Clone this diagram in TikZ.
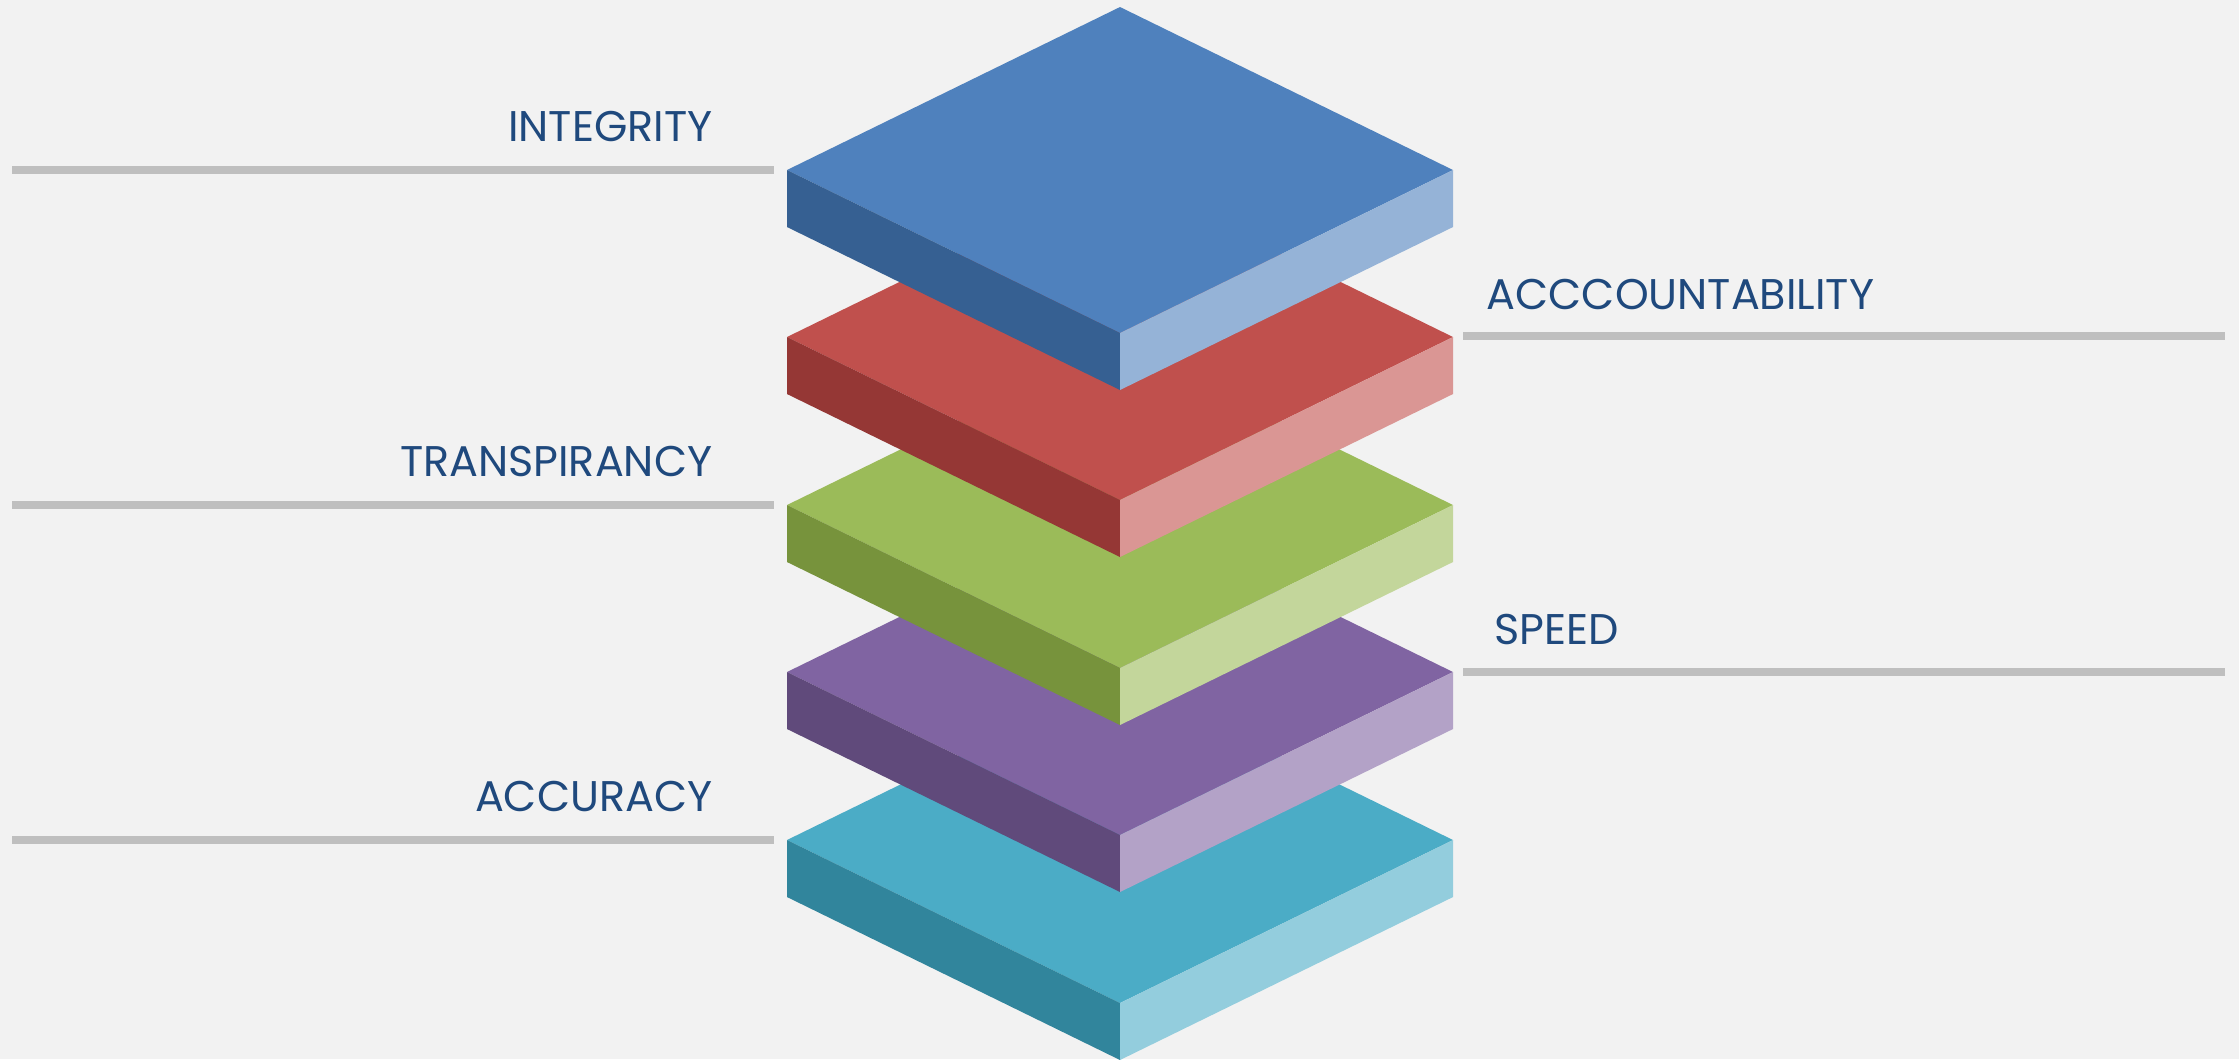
\documentclass[tikz,border=0pt]{standalone}
\usepackage{xcolor}
\usepackage{fontspec}
\setmainfont{Poppins}
\usetikzlibrary{positioning}

\definecolor{bgGray}{HTML}{F2F2F2}
\definecolor{lineGray}{HTML}{BFBFBF}
\definecolor{labelBlue}{HTML}{1F497D}
\definecolor{blueTop}{HTML}{4F81BD}
\definecolor{blueLeft}{HTML}{366092}
\definecolor{blueRight}{HTML}{95B3D7}
\definecolor{redTop}{HTML}{C0504D}
\definecolor{redLeft}{HTML}{953735}
\definecolor{redRight}{HTML}{DA9694}
\definecolor{greenTop}{HTML}{9BBB59}
\definecolor{greenLeft}{HTML}{77933C}
\definecolor{greenRight}{HTML}{C3D69B}
\definecolor{purpleTop}{HTML}{8064A2}
\definecolor{purpleLeft}{HTML}{604A7B}
\definecolor{purpleRight}{HTML}{B3A2C7}
\definecolor{tealTop}{HTML}{4BACC6}
\definecolor{tealLeft}{HTML}{31859C}
\definecolor{tealRight}{HTML}{93CDDD}

\begin{document}
\begin{tikzpicture}[x=0.01cm, y=-0.01cm,
    lbl text/.style={font=\fontsize{12.2}{14}\selectfont, text=labelBlue, inner sep=0pt},
    lbl line/.style={draw=lineGray, line width=0.08cm}]

    % background
    \fill [bgGray] (0,0) rectangle (2239,1059);
    \useasboundingbox (0,0) rectangle (2239,1059);

    % slabs, bottom first
    \fill [tealTop] (1120,677) -- (1453,840) -- (1120,1003) -- (787,840) -- cycle;
    \fill [tealLeft] (787,840) -- (1120,1003) -- (1120,1060) -- (787,897) -- cycle;
    \fill [tealRight] (1120,1003) -- (1453,840) -- (1453,897) -- (1120,1060) -- cycle;

    \fill [purpleTop] (1120,509) -- (1453,672) -- (1120,835) -- (787,672) -- cycle;
    \fill [purpleLeft] (787,672) -- (1120,835) -- (1120,892) -- (787,729) -- cycle;
    \fill [purpleRight] (1120,835) -- (1453,672) -- (1453,729) -- (1120,892) -- cycle;

    \fill [greenTop] (1120,342) -- (1453,505) -- (1120,668) -- (787,505) -- cycle;
    \fill [greenLeft] (787,505) -- (1120,668) -- (1120,725) -- (787,562) -- cycle;
    \fill [greenRight] (1120,668) -- (1453,505) -- (1453,562) -- (1120,725) -- cycle;

    \fill [redTop] (1120,174) -- (1453,337) -- (1120,500) -- (787,337) -- cycle;
    \fill [redLeft] (787,337) -- (1120,500) -- (1120,557) -- (787,394) -- cycle;
    \fill [redRight] (1120,500) -- (1453,337) -- (1453,394) -- (1120,557) -- cycle;

    \fill [blueTop] (1120,7) -- (1453,170) -- (1120,333) -- (787,170) -- cycle;
    \fill [blueLeft] (787,170) -- (1120,333) -- (1120,390) -- (787,227) -- cycle;
    \fill [blueRight] (1120,333) -- (1453,170) -- (1453,227) -- (1120,390) -- cycle;

    % label lines
    \coordinate (integrity a) at (12,170);
    \coordinate (integrity b) at (774,170);
    \coordinate (account a) at (1463,336);
    \coordinate (account b) at (2225,336);
    \coordinate (transp a) at (12,505);
    \coordinate (transp b) at (774,505);
    \coordinate (speed a) at (1463,672);
    \coordinate (speed b) at (2225,672);
    \coordinate (accuracy a) at (12,840);
    \coordinate (accuracy b) at (774,840);

    \draw [lbl line] (integrity a) -- (integrity b);
    \draw [lbl line] (account a) -- (account b);
    \draw [lbl line] (transp a) -- (transp b);
    \draw [lbl line] (speed a) -- (speed b);
    \draw [lbl line] (accuracy a) -- (accuracy b);

    % labels
    \node [lbl text, anchor=base east] (integrity) at (713,141) {INTEGRITY};
    \node [lbl text, anchor=base west] (account) at (1486,309) {ACCCOUNTABILITY};
    \node [lbl text, anchor=base east] (transp) at (713,476) {TRANSPIRANCY};
    \node [lbl text, anchor=base west] (speed) at (1494,644) {SPEED};
    \node [lbl text, anchor=base east] (accuracy) at (713,811) {ACCURACY};
\end{tikzpicture}
\end{document}
